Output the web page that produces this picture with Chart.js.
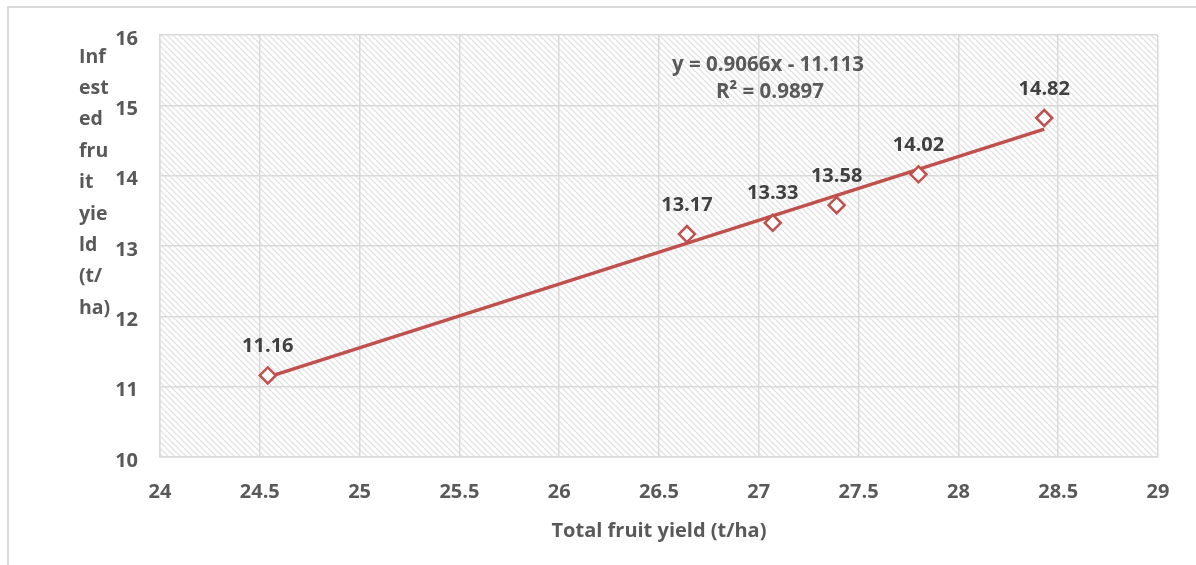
<!DOCTYPE html>
<html>
<head>
<meta charset="utf-8">
<script src="https://cdn.jsdelivr.net/npm/chart.js@4.4.1/dist/chart.umd.min.js"></script>
<style>
  html, body { margin: 0; padding: 0; background: #fff; }
  #wrap { width: 1196px; height: 565px; position: relative; }
</style>
</head>
<body>
<div id="wrap"><canvas id="yieldChart" width="1196" height="565"></canvas></div>
<script>
// data
const totalYield = [24.54, 26.64, 27.07, 27.39, 27.80, 28.43];
const infestedYield = [11.16, 13.17, 13.33, 13.58, 14.02, 14.82];
const pointLabels = ['11.16', '13.17', '13.33', '13.58', '14.02', '14.82'];
const xTicks = [24, 24.5, 25, 25.5, 26, 26.5, 27, 27.5, 28, 28.5, 29];
const yTicks = [10, 11, 12, 13, 14, 15, 16];
const yTitleLines = ['Inf', 'est', 'ed', 'fru', 'it', 'yie', 'ld', '(t/', 'ha)'];
const xTitle = 'Total fruit yield (t/ha)';
const trendSlope = 0.9066;
const trendIntercept = -11.113;
const trendText = ['y = 0.9066x - 11.113', 'R\u00b2 = 0.9897'];

const FONT = "'Open Sans', 'Noto Sans', sans-serif";
const RED = '#c0504d';

// trendline endpoints from the fitted equation
const xMin = Math.min(...totalYield), xMax = Math.max(...totalYield);
const trendPoints = [xMin, xMax].map(x => ({ x: x, y: trendSlope * x + trendIntercept }));

function hatchPattern(ctx) {
    const c = document.createElement('canvas');
    c.width = 6; c.height = 6;
    const g = c.getContext('2d');
    g.fillStyle = '#ffffff';
    g.fillRect(0, 0, 6, 6);
    g.strokeStyle = '#e2e2e2';
    g.lineWidth = 1.3;
    g.beginPath();
    g.moveTo(-1, -1); g.lineTo(7, 7);
    g.moveTo(-1, 5); g.lineTo(1, 7);
    g.moveTo(5, -1); g.lineTo(7, 1);
    g.stroke();
    return ctx.createPattern(c, 'repeat');
}

const decorPlugin = {
    id: 'decor',
    beforeDraw(chart) {
        const ctx = chart.ctx, a = chart.chartArea;
        ctx.save();
        // outer frame (top + left edges visible)
        ctx.strokeStyle = '#d9d9d9';
        ctx.lineWidth = 2;
        ctx.beginPath();
        ctx.moveTo(8, 565); ctx.lineTo(8, 7); ctx.lineTo(1196, 7);
        ctx.stroke();
        // hatched plot area
        ctx.fillStyle = hatchPattern(ctx);
        ctx.fillRect(a.left, a.top, a.right - a.left, a.bottom - a.top);
        ctx.restore();
    },
    afterDraw(chart) {
        const ctx = chart.ctx;
        const xs = chart.scales.x, ys = chart.scales.y;
        ctx.save();
        ctx.font = 'bold 20px ' + FONT;
        ctx.fillStyle = '#404040';
        ctx.textAlign = 'center';
        ctx.textBaseline = 'middle';
        // point labels
        totalYield.forEach((x, i) => {
            ctx.fillText(pointLabels[i], xs.getPixelForValue(x), ys.getPixelForValue(infestedYield[i]) - 29);
        });
        // equation
        ctx.fillStyle = '#595959';
        ctx.font = 'bold 20.5px ' + FONT;
        ctx.fillText(trendText[0], 768, 65);
        ctx.fillText(trendText[1], 770, 92);
        // stacked y title
        ctx.textAlign = 'left';
        ctx.font = 'bold 19.5px ' + FONT;
        yTitleLines.forEach((t, i) => ctx.fillText(t, 79, 57 + i * 31.4));
        ctx.restore();
    }
};

new Chart(document.getElementById('yieldChart'), {
    type: 'scatter',
    data: {
        datasets: [{
            label: 'Infested fruit yield',
            data: totalYield.map((x, i) => ({ x: x, y: infestedYield[i] })),
            pointStyle: 'rectRot',
            pointRadius: 8,
            pointBorderWidth: 2.5,
            pointBorderColor: RED,
            pointBackgroundColor: '#ffffff',
            order: 1
        }, {
            type: 'line',
            label: 'Linear trend',
            data: trendPoints,
            borderColor: RED,
            borderWidth: 3.5,
            pointRadius: 0,
            fill: false,
            order: 2
        }]
    },
    options: {
        responsive: false,
        animation: false,
        devicePixelRatio: 1,
        layout: { padding: { top: 35, right: 38, left: 0, bottom: 22 } },
        plugins: {
            legend: { display: false },
            tooltip: { enabled: false }
        },
        scales: {
            x: {
                type: 'linear',
                min: 24, max: 29,
                afterBuildTicks: s => { s.ticks = xTicks.map(v => ({ value: v })); },
                afterFit: s => { s.height = 86; },
                grid: { color: '#d9d9d9', lineWidth: 1.5, drawTicks: false },
                border: { color: '#d9d9d9', width: 1.5 },
                ticks: {
                    padding: 23,
                    color: '#595959',
                    font: { family: FONT, size: 20, weight: 'bold' },
                    callback: v => String(v)
                },
                title: {
                    display: true,
                    text: xTitle,
                    color: '#595959',
                    padding: { top: 10, bottom: 0 },
                    font: { family: FONT, size: 20, weight: 'bold' }
                }
            },
            y: {
                type: 'linear',
                min: 10, max: 16,
                afterBuildTicks: s => { s.ticks = yTicks.map(v => ({ value: v })); },
                afterFit: s => { s.width = 160; },
                grid: { color: '#d9d9d9', lineWidth: 1.5, drawTicks: false },
                border: { color: '#d9d9d9', width: 1.5 },
                ticks: {
                    padding: 22,
                    labelOffset: 4,
                    color: '#595959',
                    font: { family: FONT, size: 20, weight: 'bold' },
                    callback: v => String(v)
                }
            }
        }
    },
    plugins: [decorPlugin]
});
</script>
</body>
</html>
